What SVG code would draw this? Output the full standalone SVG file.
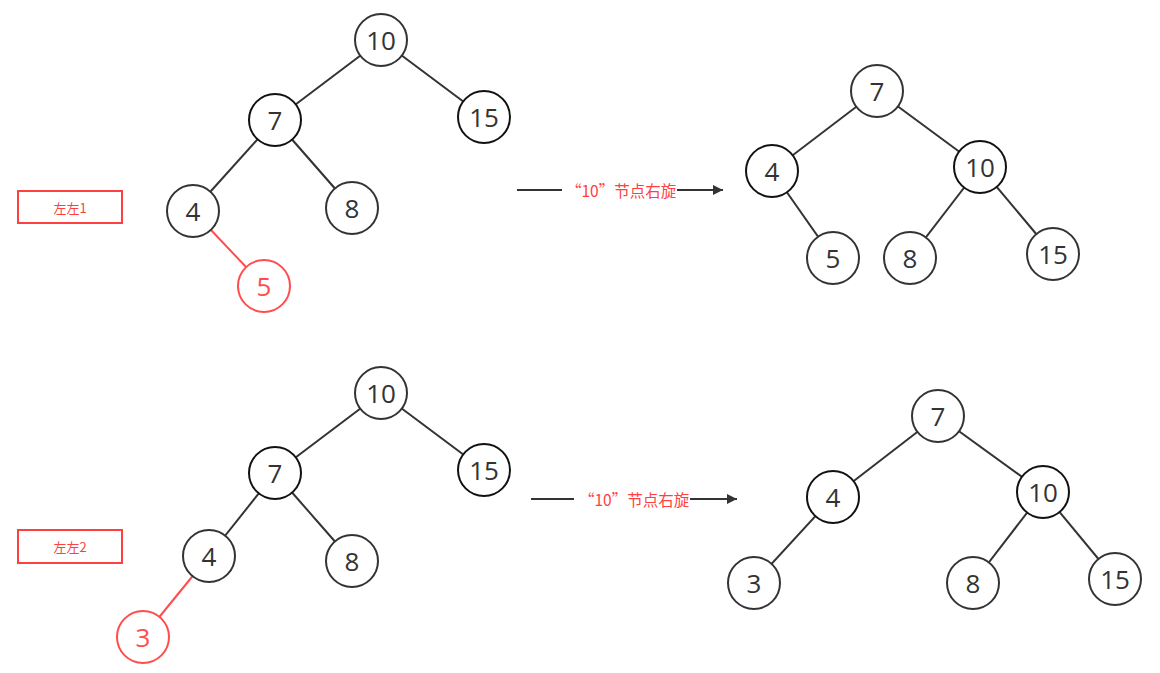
<svg xmlns="http://www.w3.org/2000/svg" width="1160" height="673" viewBox="0 0 1160 673">
<style>
.e{stroke:#333;stroke-width:2;fill:none}
.er{stroke:#ff4d4d;stroke-width:2;fill:none}
.n circle{fill:#fff;stroke:#333;stroke-width:2}
.n text{font-family:"Open Sans","Noto Sans",sans-serif;font-size:26px;fill:#333;text-anchor:middle;dominant-baseline:central}
.b circle{stroke:#111}
.r circle{stroke:#ff4d4d}
.r text{fill:#ff4d4d}
.lab rect{fill:#fff;stroke:#ff4040;stroke-width:2}
.lab text{font-family:"Noto Sans CJK SC",sans-serif;font-size:13px;fill:#ff4040;text-anchor:middle;dominant-baseline:central}
.op text{font-family:"Noto Sans CJK SC",sans-serif;font-size:15.5px;fill:#ff4040;dominant-baseline:central}
</style>
<defs>
<marker id="ah" viewBox="0 0 10 10" refX="10" refY="5" markerWidth="15" markerHeight="10" markerUnits="userSpaceOnUse" orient="auto"><path d="M0,0L10,5L0,10z" fill="#333"/></marker>
</defs>
<rect width="1160" height="673" fill="#fff"/>
<g id="connectors">
<line class="e" x1="381" y1="40" x2="275" y2="120"/>
<line class="e" x1="381" y1="40" x2="484" y2="117"/>
<line class="e" x1="275" y1="120" x2="193" y2="211"/>
<line class="e" x1="275" y1="120" x2="352" y2="208"/>
<line class="er" x1="193" y1="211" x2="264" y2="286"/>
<line class="e" x1="877" y1="91" x2="772" y2="171"/>
<line class="e" x1="877" y1="91" x2="980" y2="167"/>
<line class="e" x1="772" y1="171" x2="833" y2="258"/>
<line class="e" x1="980" y1="167" x2="910" y2="258"/>
<line class="e" x1="980" y1="167" x2="1053" y2="254"/>
<line class="e" x1="381" y1="393" x2="275" y2="473"/>
<line class="e" x1="381" y1="393" x2="484" y2="470"/>
<line class="e" x1="275" y1="473" x2="209" y2="556"/>
<line class="e" x1="275" y1="473" x2="352" y2="561"/>
<line class="er" x1="209" y1="556" x2="143" y2="637"/>
<line class="e" x1="938" y1="416" x2="833" y2="497"/>
<line class="e" x1="938" y1="416" x2="1043" y2="492"/>
<line class="e" x1="833" y1="497" x2="754" y2="583"/>
<line class="e" x1="1043" y1="492" x2="973" y2="583"/>
<line class="e" x1="1043" y1="492" x2="1115" y2="579"/>
<line class="e" x1="517" y1="190" x2="562" y2="190"/>
<line class="e" x1="677" y1="190" x2="723" y2="190" marker-end="url(#ah)"/>
<line class="e" x1="531" y1="499" x2="574" y2="499"/>
<line class="e" x1="690" y1="499" x2="737" y2="499" marker-end="url(#ah)"/>
</g>
<g id="t1-10" class="n"><circle cx="381" cy="40" r="26"/><text x="381" y="40">10</text></g>
<g id="t1-7" class="n b"><circle cx="275" cy="120" r="26"/><text x="275" y="120">7</text></g>
<g id="t1-15" class="n b"><circle cx="484" cy="117" r="26"/><text x="484" y="117">15</text></g>
<g id="t1-4" class="n"><circle cx="193" cy="211" r="26"/><text x="193" y="211">4</text></g>
<g id="t1-8" class="n"><circle cx="352" cy="208" r="26"/><text x="352" y="208">8</text></g>
<g id="t1-5" class="n r"><circle cx="264" cy="286" r="26"/><text x="264" y="286">5</text></g>
<g id="t2-7" class="n"><circle cx="877" cy="91" r="26"/><text x="877" y="91">7</text></g>
<g id="t2-4" class="n b"><circle cx="772" cy="171" r="26"/><text x="772" y="171">4</text></g>
<g id="t2-10" class="n b"><circle cx="980" cy="167" r="26"/><text x="980" y="167">10</text></g>
<g id="t2-5" class="n"><circle cx="833" cy="258" r="26"/><text x="833" y="258">5</text></g>
<g id="t2-8" class="n"><circle cx="910" cy="258" r="26"/><text x="910" y="258">8</text></g>
<g id="t2-15" class="n"><circle cx="1053" cy="254" r="26"/><text x="1053" y="254">15</text></g>
<g id="t3-10" class="n"><circle cx="381" cy="393" r="26"/><text x="381" y="393">10</text></g>
<g id="t3-7" class="n b"><circle cx="275" cy="473" r="26"/><text x="275" y="473">7</text></g>
<g id="t3-15" class="n b"><circle cx="484" cy="470" r="26"/><text x="484" y="470">15</text></g>
<g id="t3-4" class="n"><circle cx="209" cy="556" r="26"/><text x="209" y="556">4</text></g>
<g id="t3-8" class="n"><circle cx="352" cy="561" r="26"/><text x="352" y="561">8</text></g>
<g id="t3-3" class="n r"><circle cx="143" cy="637" r="26"/><text x="143" y="637">3</text></g>
<g id="t4-7" class="n"><circle cx="938" cy="416" r="26"/><text x="938" y="416">7</text></g>
<g id="t4-4" class="n b"><circle cx="833" cy="497" r="26"/><text x="833" y="497">4</text></g>
<g id="t4-10" class="n b"><circle cx="1043" cy="492" r="26"/><text x="1043" y="492">10</text></g>
<g id="t4-3" class="n"><circle cx="754" cy="583" r="26"/><text x="754" y="583">3</text></g>
<g id="t4-8" class="n"><circle cx="973" cy="583" r="26"/><text x="973" y="583">8</text></g>
<g id="t4-15" class="n"><circle cx="1115" cy="579" r="26"/><text x="1115" y="579">15</text></g>
<g id="label1" class="lab"><rect x="18" y="191" width="104" height="32"/><text x="70" y="207">左左1</text></g>
<g id="label2" class="lab"><rect x="18" y="530" width="104" height="33"/><text x="70" y="546">左左2</text></g>
<g id="op1" class="op"><text x="566" y="190">“10”节点右旋</text></g>
<g id="op2" class="op"><text x="579" y="499">“10”节点右旋</text></g>
</svg>
